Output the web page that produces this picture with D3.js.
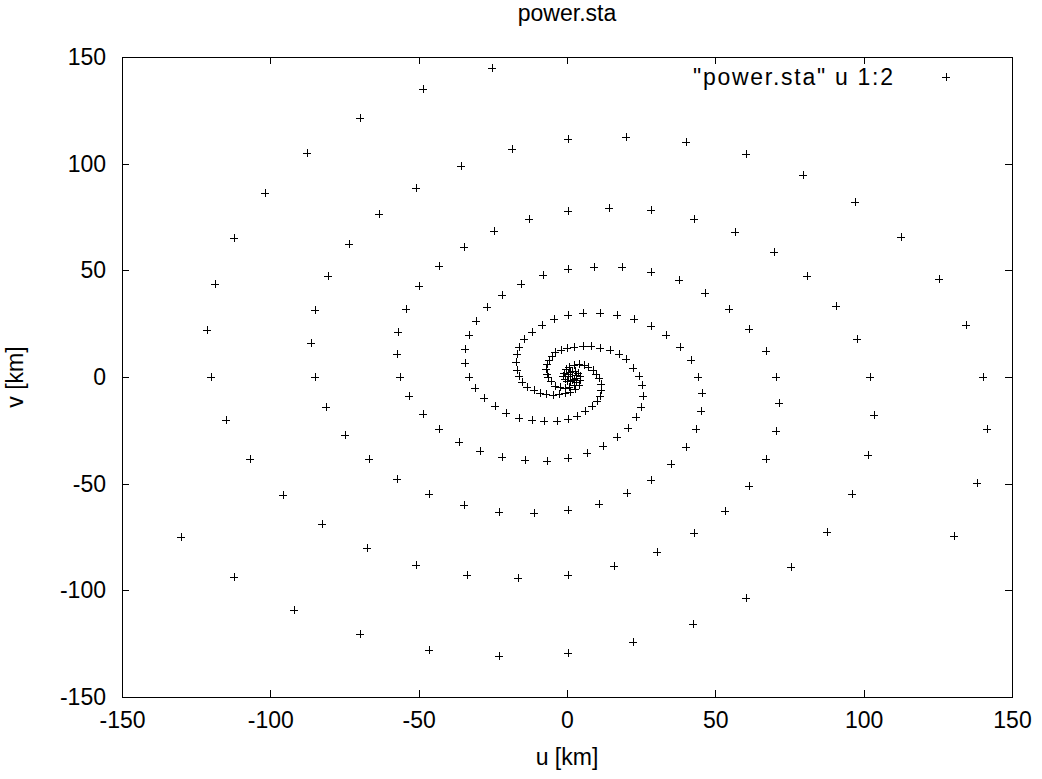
<!DOCTYPE html>
<html>
<head>
<meta charset="utf-8">
<script src="https://cdn.jsdelivr.net/npm/d3@7/dist/d3.min.js"></script>
<style>
  body { margin: 0; background: #fff; }
  text { font-family: "Liberation Sans", Arial, Helvetica, sans-serif; fill: #000; }
</style>
</head>
<body>
<svg id="chart" width="1042" height="779"></svg>
<script>
// three spiral arms, [u, v] in km (outer end first)
var armA = [
  [130.4,-74.7],[138.2,-49.8],[141.5,-24.5],[140.2,0],[134.6,24.4],[125.5,46.1],[112.7,65.5],
  [97.2,81.9],[79.7,94.8],[60.4,104.4],[40.1,110.3],[20.0,112.5],[0.2,111.4],[-18.5,106.7],
  [-35.7,98.9],[-50.8,88.7],[-63.5,76.4],[-73.5,62.2],[-80.7,47.2],[-85.0,31.4],[-86.4,15.8],
  [-85.0,0],[-81.1,-13.9],[-74.9,-27.0],[-66.8,-38.3],[-57.2,-47.7],[-46.4,-55.0],[-34.8,-60.1],
  [-22.9,-63.1],[-11.1,-63.7],[0.2,-62.5],[10.8,-59.4],[20.2,-54.4],[28.3,-48.3],[35.1,-40.9],
  [40.0,-33.0],[43.5,-24.5],[45.3,-15.9],[45.5,-7.5],[44.2,0],[41.7,7.8],[38.1,14.2],[33.5,19.8],
  [28.3,24.0],[22.7,27.0],[17.0,29.2],[11.1,30.1],[5.4,30.0],[0.2,29.2],[-4.4,27.0],[-8.4,24.5],
  [-11.7,21.1],[-14.4,17.7],[-16.2,14.2],[-17.0,10.6],[-17.2,7.0],[-17.0,3.4],[-16.3,0.3],
  [-15.2,-2.3],[-13.4,-4.5],[-11.2,-6.1],[-9.2,-7.4],[-7.1,-8.2],[-4.8,-8.4],[-2.7,-8.2],
  [-0.6,-7.7],[1.1,-7.0],[2.7,-5.6],[4.0,-3.8],
  [4.5,-1.6],[4.4,0.3],[3.8,1.9],[2.8,2.7],[1.8,2.9],[0.9,2.3],[0.4,1.4],[0.3,0.4]
];
var armB = [
  [-25.3,145.0],[-48.6,135.1],[-69.8,121.5],[-87.5,104.9],[-101.8,86.1],[-112.2,65.3],
  [-118.8,43.6],[-121.2,21.9],[-120.0,0],[-115.0,-20.0],[-106.8,-38.4],[-95.8,-55.2],
  [-82.5,-68.9],[-67.3,-80.0],[-50.8,-88.0],[-33.7,-92.7],[-16.5,-94.4],[0.2,-93.0],
  [15.9,-88.7],[30.2,-82.2],[42.8,-73.3],[53.4,-62.8],[61.3,-51.0],[67.2,-38.3],[70.6,-25.2],
  [71.5,-12.0],[70.3,0],[67.0,12.2],[61.5,22.6],[54.7,31.7],[46.6,39.4],[37.8,45.3],[28.3,49.1],
  [18.6,51.4],[9.1,51.6],[0.2,50.6],[-8.2,47.7],[-15.6,43.5],[-21.9,38.6],[-26.9,32.8],
  [-30.6,26.3],[-33.0,19.7],[-34.3,13.0],[-34.3,6.6],[-33.0,0],[-31.0,-5.2],[-28.0,-10.0],
  [-24.4,-13.7],[-20.5,-16.9],[-16.2,-19.1],[-11.8,-20.3],[-7.7,-20.6],[-3.5,-20.5],[0.2,-19.5],
  [3.4,-18.1],[6.1,-16.1],[8.4,-13.7],[10.0,-11.3],[11.1,-8.7],[11.6,-5.9],[11.4,-3.3],
  [10.8,-0.7],[9.9,1.6],[8.8,3.5],[7.2,4.9],[5.6,5.6],[3.9,5.9],[2.2,5.6],[0.7,4.9],
  [-0.5,3.7],[-1.1,2.0],[-1.2,0.3],[-0.7,-1.0],[0.0,-1.8],[0.9,-2.1],[1.7,-1.6],[2.2,-0.8]
];
var armC = [
  [-130.0,-74.9],[-112.2,-93.9],[-91.9,-109.4],[-69.8,-120.6],[-46.5,-127.8],[-22.9,-130.6],
  [0.2,-129.4],[22.2,-124.2],[42.4,-115.6],[60.4,-103.6],[75.5,-89.2],[87.5,-72.8],[96.2,-55.0],
  [101.6,-36.4],[103.6,-17.8],[102.2,0],[97.9,17.7],[90.7,33.3],[81.0,47.2],[69.7,58.7],
  [56.6,67.8],[42.8,74.2],[28.4,78.1],[14.1,79.2],[0.2,77.8],[-12.9,74.2],[-24.6,68.6],
  [-34.8,60.9],[-43.2,52.2],[-50.0,42.5],[-54.4,31.9],[-56.9,21.1],[-57.4,10.6],[-56.2,0],
  [-53.2,-9.0],[-48.4,-17.2],[-43.0,-24.5],[-36.5,-30.3],[-29.3,-34.7],[-21.9,-37.6],
  [-14.3,-39.0],[-6.8,-39.2],[0.2,-38.0],[6.6,-35.8],[12.1,-32.5],[16.9,-28.3],[20.6,-23.9],
  [23.3,-18.9],[24.8,-13.9],[25.5,-8.8],[25.3,-3.9],[24.2,0.5],[22.1,4.4],[20.0,8.3],
  [17.4,10.9],[14.4,12.7],[11.2,13.8],[8.1,14.3],[5.3,14.4],[2.5,14.1],[0.0,13.5],[-2.0,12.7],
  [-3.9,11.5],[-5.2,9.8],[-6.2,8.0],[-6.8,5.9],[-7.1,3.8],[-6.8,1.6],[-6.3,-0.2],[-5.5,-2.1],
  [-4.0,-4.0],[-2.5,-4.9],[-0.8,-5.3],[0.8,-4.9],[2.2,-3.8],[3.0,-2.3],[3.2,-0.7],[2.9,0.8]
];
var xTicks = [-150, -100, -50, 0, 50, 100, 150];
var yTicks = [-150, -100, -50, 0, 50, 100, 150];
var titleText = "power.sta";
var keyText = '"power.sta" u 1:2';

var svg = d3.select("#chart"),
    marginLeft = 122, marginRight = 30, marginTop = 57, marginBottom = 82,
    width = +svg.attr("width"),
    height = +svg.attr("height");

var x = d3.scaleLinear().domain([-150, 150]).range([marginLeft, width - marginRight]);
var y = d3.scaleLinear().domain([-150, 150]).range([height - marginBottom, marginTop]);

var labelSize = 23;

// border
svg.append("rect")
  .attr("x", x(-150) + 0.5).attr("y", y(150) + 0.5)
  .attr("width", x(150) - x(-150)).attr("height", y(-150) - y(150))
  .attr("fill", "none").attr("stroke", "#000").attr("stroke-width", 1);

function styleAxis(g) {
  g.select(".domain").remove();
  g.selectAll("line").attr("stroke", "#000").attr("shape-rendering", "crispEdges");
  g.selectAll("text").attr("font-family", null).style("font-size", labelSize + "px");
}

// gnuplot writes minus as a plain hyphen
var plainNum = function(d) { return String(d); };

// bottom, labelled, ticks pointing in
svg.append("g")
  .attr("transform", "translate(0," + y(-150) + ")")
  .call(d3.axisBottom(x).tickValues(xTicks).tickSizeInner(-7).tickSizeOuter(0).tickPadding(15).tickFormat(plainNum))
  .call(styleAxis);
// top mirror
svg.append("g")
  .attr("transform", "translate(0," + y(150) + ")")
  .call(d3.axisTop(x).tickValues(xTicks).tickSizeInner(-7).tickSizeOuter(0).tickFormat(""))
  .call(styleAxis);
// left, labelled
svg.append("g")
  .attr("transform", "translate(" + x(-150) + ",0)")
  .call(d3.axisLeft(y).tickValues(yTicks).tickSizeInner(-7).tickSizeOuter(0).tickPadding(16).tickFormat(plainNum))
  .call(styleAxis);
// right mirror
svg.append("g")
  .attr("transform", "translate(" + x(150) + ",0)")
  .call(d3.axisRight(y).tickValues(yTicks).tickSizeInner(-7).tickSizeOuter(0).tickFormat(""))
  .call(styleAxis);

// title and axis labels
svg.append("text")
  .attr("x", (x(-150) + x(150)) / 2).attr("y", 21)
  .attr("text-anchor", "middle")
  .style("font-size", labelSize + "px")
  .text(titleText);

svg.append("text")
  .attr("x", (x(-150) + x(150)) / 2).attr("y", 765)
  .attr("text-anchor", "middle")
  .style("font-size", labelSize + "px")
  .text("u [km]");

svg.append("text")
  .attr("transform", "translate(23," + y(0) + ")rotate(-90)")
  .attr("text-anchor", "middle")
  .style("font-size", labelSize + "px")
  .text("v [km]");

// points
var plus = "M-4,0H4M0,-4V4";
var allPoints = armA.concat(armB, armC);

svg.append("g")
  .selectAll("path")
  .data(allPoints)
  .enter()
  .append("path")
  .attr("transform", function(d) { return "translate(" + Math.round(x(d[0])) + "," + Math.round(y(d[1])) + ")"; })
  .attr("d", plus)
  .attr("stroke", "#000")
  .attr("stroke-width", 1)
  .attr("shape-rendering", "crispEdges")
  .attr("fill", "none");

// key
svg.append("text")
  .attr("x", 693).attr("y", 77)
  .attr("dy", "0.35em")
  .attr("textLength", 200)
  .attr("lengthAdjust", "spacing")
  .style("font-size", labelSize + "px")
  .text(keyText);

svg.append("path")
  .attr("transform", "translate(946,77)")
  .attr("d", plus)
  .attr("stroke", "#000")
  .attr("shape-rendering", "crispEdges")
  .attr("fill", "none");
</script>
</body>
</html>
